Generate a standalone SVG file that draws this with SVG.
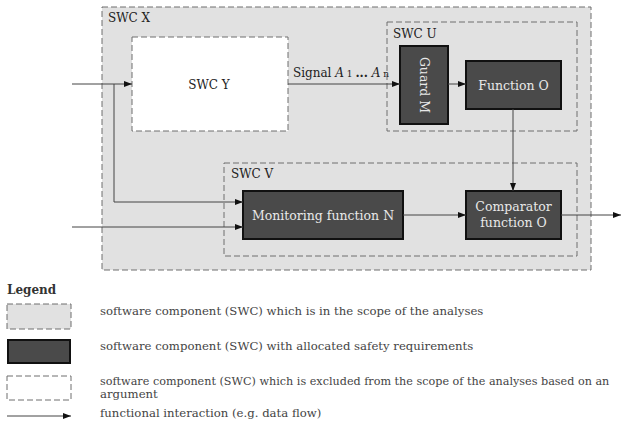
<svg xmlns="http://www.w3.org/2000/svg" width="628" height="428" viewBox="0 0 628 428">
  <style>
    text { font-family: "DejaVu Serif", "Liberation Serif", serif; font-size: 12px; fill: #333; }
    .scope { fill: #e1e1e1; stroke: #6f6f6f; stroke-width: 1; stroke-dasharray: 6 3; }
    .excluded { fill: #ffffff; stroke: #6f6f6f; stroke-width: 1; stroke-dasharray: 6 3; }
    .safety { fill: #4a4a4a; stroke: #111; stroke-width: 2; }
    .lbl { font-size: 12px; fill: #222; }
    .inner { font-size: 12.5px; fill: #e8e8e8; text-anchor: middle; }
    .flow { fill: none; stroke: #444; stroke-width: 1; marker-end: url(#arrow); }
    .legend { font-size: 11.7px; fill: #444; }
    .legend.long { font-size: 11.2px; }
  </style>
  <defs>
    <marker id="arrow" viewBox="0 0 8 6" refX="8" refY="3" markerWidth="8" markerHeight="6" markerUnits="userSpaceOnUse" orient="auto">
      <path d="M0,0 L8,3 L0,6 z" fill="#111"/>
    </marker>
  </defs>

  <rect width="628" height="428" fill="#ffffff"/>

  <!-- outer component -->
  <g id="swc-x">
    <rect class="scope" x="102" y="7" width="489" height="263"/>
    <text class="lbl" x="108" y="22">SWC X</text>
  </g>

  <g id="swc-y">
    <rect class="excluded" x="132" y="37" width="156" height="94"/>
    <text class="lbl" x="209" y="89" text-anchor="middle">SWC Y</text>
  </g>

  <g id="swc-u">
    <rect class="scope" x="387" y="22" width="190" height="109"/>
    <text class="lbl" x="393" y="38">SWC U</text>
  </g>

  <g id="guard-m">
    <rect class="safety" x="400" y="46" width="48" height="78"/>
    <text class="inner" x="424" y="85" transform="rotate(90 424 85)" dy="4.5">Guard M</text>
  </g>

  <g id="function-o">
    <rect class="safety" x="466" y="61" width="95" height="48"/>
    <text class="inner" x="513.5" y="89.5">Function O</text>
  </g>

  <g id="swc-v">
    <rect class="scope" x="224" y="163" width="353" height="93"/>
    <text class="lbl" x="231" y="178">SWC V</text>
  </g>

  <g id="monitoring-n">
    <rect class="safety" x="243" y="191" width="160" height="48"/>
    <text class="inner" x="323" y="219.5">Monitoring function N</text>
  </g>

  <g id="comparator-o">
    <rect class="safety" x="466" y="191" width="95" height="48"/>
    <text class="inner" x="513.5" y="211">Comparator</text>
    <text class="inner" x="513.5" y="227">function O</text>
  </g>

  <!-- data flows -->
  <g id="connectors">
    <line class="flow" x1="72" y1="84" x2="132" y2="84"/>
    <polyline class="flow" points="114,84 114,202 243,202"/>
    <line class="flow" x1="72" y1="227" x2="243" y2="227"/>
    <line class="flow" x1="288" y1="84" x2="400" y2="84"/>
    <line class="flow" x1="448" y1="84" x2="466" y2="84"/>
    <line class="flow" x1="513" y1="109" x2="513" y2="191"/>
    <line class="flow" x1="403" y1="215" x2="466" y2="215"/>
    <line class="flow" x1="561" y1="215" x2="621" y2="215"/>
    <text class="lbl" x="293" y="77">Signal <tspan font-style="italic">A</tspan><tspan font-size="9px"> 1 </tspan><tspan font-weight="bold">...</tspan> <tspan font-style="italic">A</tspan><tspan font-size="9px"> n</tspan></text>
  </g>

  <!-- key -->
  <g id="legend">
    <text x="7" y="294" font-weight="bold" font-size="11.7px" fill="#222">Legend</text>
    <rect class="scope" x="7" y="304" width="64" height="25"/>
    <rect class="safety" x="8" y="340" width="62" height="23"/>
    <rect class="excluded" x="7" y="376" width="64" height="24"/>
    <line class="flow" x1="7" y1="416" x2="71" y2="416"/>
    <text class="legend" x="100" y="315">software component (SWC) which is in the scope of the analyses</text>
    <text class="legend" x="100" y="350">software component (SWC) with allocated safety requirements</text>
    <text class="legend long" x="100" y="384.5">software component (SWC) which is excluded from the scope of the analyses based on an</text>
    <text class="legend" x="100" y="397.5">argument</text>
    <text class="legend" x="100" y="417">functional interaction (e.g. data flow)</text>
  </g>
</svg>
